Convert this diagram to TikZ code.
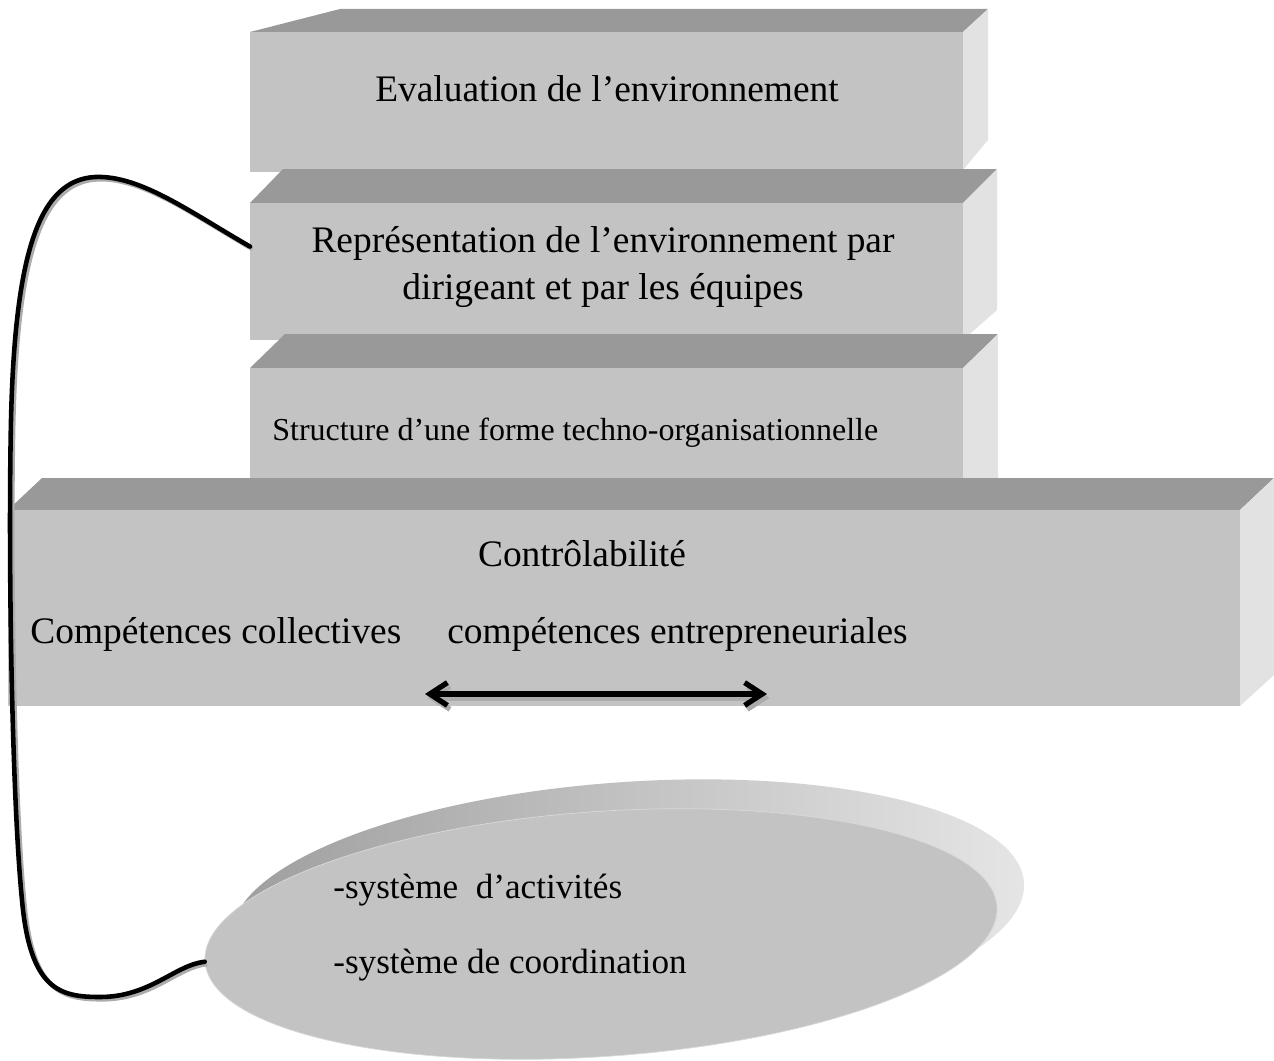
\documentclass[tikz,border=0pt]{standalone}
\usepackage{fontspec}
\setmainfont{Liberation Serif}
\usetikzlibrary{arrows.meta,shapes.geometric}

\definecolor{frontgray}{gray}{0.765}
\definecolor{topgray}{gray}{0.6}
\definecolor{sidegray}{gray}{0.885}
\definecolor{rimdark}{gray}{0.62}
\definecolor{rimlight}{gray}{0.9}

\tikzset{
  face/.style={fill=frontgray, inner sep=0pt, outer sep=0pt, anchor=north west},
  topface/.style={fill=topgray},
  sideface/.style={fill=sidegray},
  lbl/.style={font=\fontsize{21.3}{26.7}\selectfont, inner sep=0pt},
  smalllbl/.style={font=\fontsize{18.2}{22}\selectfont, inner sep=0pt},
  disclbl/.style={font=\fontsize{20}{24}\selectfont, inner sep=0pt, anchor=base west},
  link/.style={line width=2.6pt, line cap=round,
    preaction={draw=gray!65, line width=2.6pt, transform canvas={shift={(1.3pt,-1.3pt)}}}},
  dblarrow/.style={line width=3pt, {Straight Barb[length=10pt,width=13pt]}-{Straight Barb[length=10pt,width=13pt]},
    preaction={draw=gray!65, line width=3pt, {Straight Barb[length=10pt,width=13pt]}-{Straight Barb[length=10pt,width=13pt]},
      transform canvas={shift={(1.5pt,-2.2pt)}}}},
}

\begin{document}
\begin{tikzpicture}[x=0.02cm,y=-0.02cm]
  \useasboundingbox (0,0) rectangle (1274,1061);

  % Evaluation
  \fill[topface] (250,32) -- (340,9) -- (988,9) -- (963,32) -- cycle;
  \fill[sideface] (963,32) -- (988,9) -- (988,140) -- (963,170) -- cycle;
  \node[face, minimum width=14.26cm, minimum height=2.8cm] (evalbox) at (250,32) {};
  \node[lbl, anchor=base] (evaltxt) at (607,102) {Evaluation de l’environnement};

  % Representation
  \fill[topface] (250,203) -- (283,169) -- (997,169) -- (963,203) -- cycle;
  \fill[sideface] (963,203) -- (997,169) -- (997,310) -- (963,340) -- cycle;
  \node[face, minimum width=14.26cm, minimum height=2.74cm] (repbox) at (250,203) {};
  \node[lbl, align=center] (reptxt) at (603,267) {Représentation de l’environnement par\\dirigeant et par les équipes};

  % Structure
  \fill[topface] (250,368) -- (285,334) -- (998,334) -- (963,368) -- cycle;
  \fill[sideface] (963,368) -- (998,334) -- (998,478) -- (963,478) -- cycle;
  \node[face, minimum width=14.26cm, minimum height=2.2cm] (structbox) at (250,368) {};
  \node[smalllbl, anchor=base west] (structtxt) at (272,440) {Structure d’une forme techno-organisationnelle};

  % Controlabilite
  \fill[topface] (8,510) -- (42,478) -- (1274,478) -- (1240,510) -- cycle;
  \fill[sideface] (1240,510) -- (1274,478) -- (1274,675) -- (1240,706) -- cycle;
  \node[face, minimum width=24.64cm, minimum height=3.92cm] (ctrlbox) at (8,510) {};
  \node[lbl, anchor=base] (ctrltxt) at (582,566) {Contrôlabilité};
  \node[lbl, anchor=base west] (colltxt) at (30,643) {Compétences collectives};
  \node[lbl, anchor=base west] (entrtxt) at (447,643) {compétences entrepreneuriales};
  \coordinate (arrl) at (425,694);
  \coordinate (arrr) at (767,694);
  \draw[dblarrow] (arrl) -- (arrr);

  % disque
  \shade[left color=rimdark, right color=rimlight, rotate around={4:(628,910)}]
    (628,910) ellipse [x radius=7.94cm, y radius=2.56cm];
  \node[ellipse, fill=frontgray, draw=gray!30, line width=0.4pt, inner sep=0pt,
    minimum width=15.88cm, minimum height=4.9cm, rotate=4] (sys) at (601,934) {};
  \node[disclbl] (acttxt) at (333,898) {-système~ d’activités};
  \node[disclbl] (coordtxt) at (333,973) {-système de coordination};

  % lien
  \draw[link] (repbox.176) .. controls (190,212) and (140,175) .. (95,177)
    .. controls (40,180) and (15,250) .. (11,420)
    .. controls (8,560) and (12,800) .. (22,900)
    .. controls (30,990) and (60,997) .. (100,997)
    .. controls (150,997) and (175,965) .. (sys.west);
\end{tikzpicture}
\end{document}
